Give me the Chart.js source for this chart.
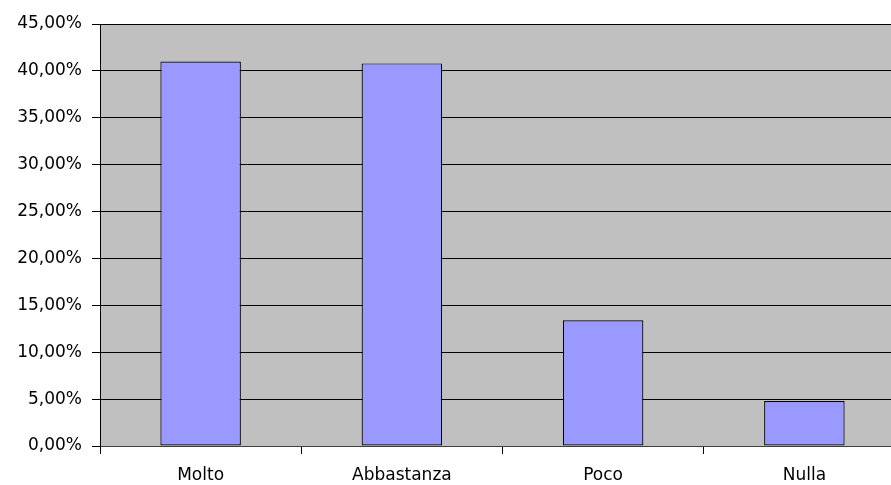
<!DOCTYPE html>
<html>
<head>
<meta charset="utf-8">
<script src="https://cdn.jsdelivr.net/npm/chart.js@4/dist/chart.umd.min.js"></script>
<style>
  html, body { margin: 0; padding: 0; background: #ffffff; overflow: hidden; }
  #wrap { width: 905px; height: 485px; }
</style>
</head>
<body>
<div id="wrap"><canvas id="chart" width="905" height="485"></canvas></div>
<script>
// Risposte (percentuale)
const categories = ['Molto', 'Abbastanza', 'Poco', 'Nulla'];
const percentages = [41.0, 40.8, 13.4, 4.8];
const yMax = 45;
const yStep = 5;

// Sfondo grigio dell'area del grafico
const plotBackground = {
  id: 'plotBackground',
  beforeDraw(chart) {
    const { ctx, chartArea: a } = chart;
    ctx.save();
    ctx.fillStyle = '#C0C0C0';
    ctx.fillRect(a.left, a.top, a.right - a.left, a.bottom - a.top);
    ctx.restore();
  }
};

const fontFamily = '"DejaVu Sans", Verdana, sans-serif';

new Chart(document.getElementById('chart'), {
  type: 'bar',
  data: {
    labels: categories,
    datasets: [{
      data: percentages,
      backgroundColor: '#9999FF',
      borderColor: '#000000',
      borderWidth: 1.2,
      borderSkipped: false,
      barPercentage: 0.4,
      categoryPercentage: 1.0
    }]
  },
  options: {
    responsive: false,
    animation: false,
    layout: { padding: { top: 24, right: 0, bottom: 0, left: 0 } },
    plugins: {
      legend: { display: false },
      tooltip: { enabled: false }
    },
    scales: {
      x: {
        offset: true,
        grid: {
          offset: true,
          drawOnChartArea: false,
          drawTicks: true,
          tickLength: 8,
          color: '#000000'
        },
        border: { color: '#404040', width: 1 },
        ticks: {
          color: '#000000',
          padding: 11,
          font: { family: fontFamily, size: 17 }
        },
        afterFit(scale) { scale.height = 39; }
      },
      y: {
        min: 0,
        max: yMax,
        grid: {
          color: '#000000',
          tickLength: 8,
          drawTicks: true
        },
        border: { color: '#000000', width: 1 },
        ticks: {
          stepSize: yStep,
          color: '#000000',
          padding: 10,
          font: { family: fontFamily, size: 17 },
          callback: v => v.toFixed(2).replace('.', ',') + '%'
        },
        afterFit(scale) { scale.width = 100; }
      }
    }
  },
  plugins: [plotBackground]
});
</script>
</body>
</html>
